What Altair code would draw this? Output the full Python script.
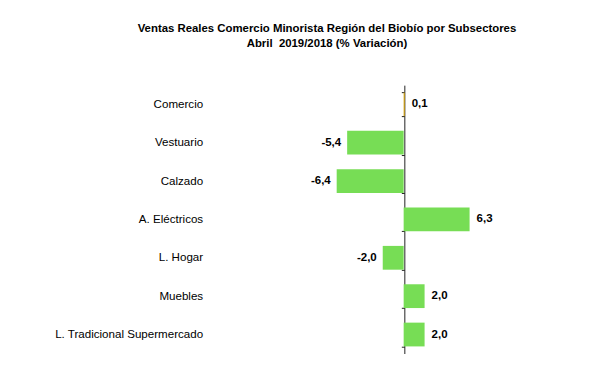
import altair as alt
import pandas as pd

categorias = ["Comercio", "Vestuario", "Calzado", "A. Eléctricos", "L. Hogar",
              "Muebles", "L. Tradicional Supermercado"]
valores = [0.1, -5.4, -6.4, 6.3, -2.0, 2.0, 2.0]
grupo = ["total", "sub", "sub", "sub", "sub", "sub", "sub"]

df = pd.DataFrame({
    "Categoria": categorias,
    "Valor": valores,
    "Grupo": grupo,
    "Etiqueta": [f"{v:.1f}".replace(".", ",") for v in valores],
})

FONT = "Liberation Sans"

y_enc = alt.Y(
    "Categoria:N", sort=categorias,
    scale=alt.Scale(paddingInner=0.38, paddingOuter=0.19),
    axis=alt.Axis(
        title=None, offset=-354, domain=True, domainColor="#222222",
        ticks=True, tickBand="extent", tickSize=3, tickColor="#222222",
        labelPadding=199, labelFont=FONT, labelFontSize=11.6,
        labelColor="#000000", grid=False,
    ),
)
x_scale = alt.Scale(domain=[-33.71, 19.05], nice=False, zero=False)

bars = alt.Chart(df).mark_bar().encode(
    x=alt.X("Valor:Q", scale=x_scale, axis=None),
    x2=alt.datum(0),
    y=y_enc,
    color=alt.Color("Grupo:N", scale=alt.Scale(domain=["total", "sub"],
                                               range=["#D9A300", "#77DD55"]),
                    legend=None),
)

pos = alt.Chart(df).transform_filter("datum.Valor >= 0").mark_text(
    align="left", baseline="middle", dx=7, font=FONT, fontSize=11.5,
    fontWeight="bold", color="#000000",
).encode(x=alt.X("Valor:Q", scale=x_scale), y=alt.Y("Categoria:N", sort=categorias),
         text="Etiqueta:N")

neg = alt.Chart(df).transform_filter("datum.Valor < 0").mark_text(
    align="right", baseline="middle", dx=-6, font=FONT, fontSize=11.5,
    fontWeight="bold", color="#000000",
).encode(x=alt.X("Valor:Q", scale=x_scale), y=alt.Y("Categoria:N", sort=categorias),
         text="Etiqueta:N")

chart = alt.layer(bars, pos, neg).properties(
    width=553, height=269,
    title=alt.TitleParams(
        text=["Ventas Reales Comercio Minorista Región del Biobío por Subsectores",
              "Abril \u00a02019/2018 (% Variación)"],
        font=FONT, fontSize=11.4, fontWeight="bold", color="#000000",
        anchor="middle", offset=30, lineHeight=15,
    ),
    autosize=alt.AutoSizeParams(type="none"),
    padding={"left": 51, "top": 85, "right": 0, "bottom": 0},
    background="white",
).configure_view(stroke=None)

chart.save("out.html", embed_options={"renderer": "svg", "actions": False})
